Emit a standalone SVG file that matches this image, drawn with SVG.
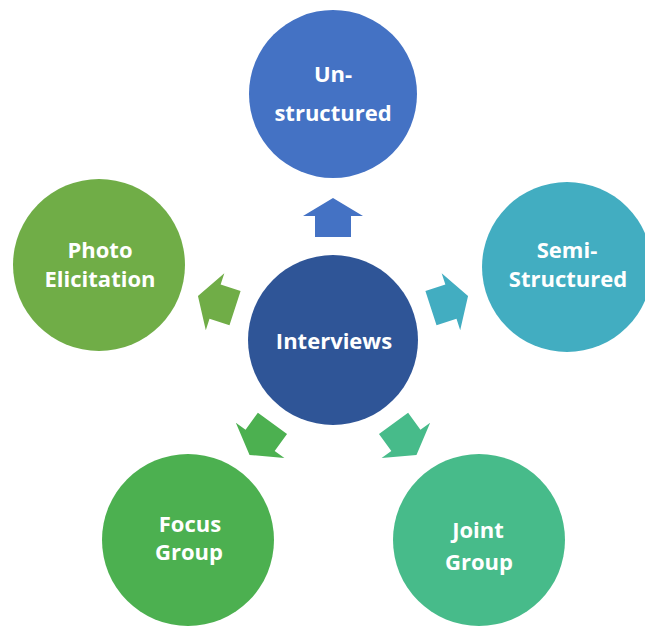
<svg xmlns="http://www.w3.org/2000/svg" width="645" height="628" viewBox="0 0 645 628">
  <style>
    .lbl { font-family: "Open Sans", "Liberation Sans", sans-serif; font-weight: bold; font-size: 22px; fill: #ffffff; text-anchor: middle; }
  </style>
  <defs>
    <!-- upward block arrow, centred on the hub's top axis; rotated for each spoke -->
    <polygon id="spoke" points="333,198 363,216 351,216 351,237 315,237 315,216 303,216"/>
  </defs>
  <rect width="645" height="628" fill="#ffffff"/>

  <g id="connectors">
    <use href="#spoke" fill="#4472C4"/>
    <use href="#spoke" fill="#42ADC1" transform="rotate(72 333 340)"/>
    <use href="#spoke" fill="#47BB8A" transform="rotate(144 333 340)"/>
    <use href="#spoke" fill="#4CB050" transform="rotate(216 333 340)"/>
    <use href="#spoke" fill="#70AD47" transform="rotate(288 333 340)"/>
  </g>

  <g id="interviews">
    <circle cx="333" cy="340" r="85" fill="#2F5597"/>
    <text class="lbl" x="334" y="349">Interviews</text>
  </g>

  <g id="unstructured">
    <circle cx="333" cy="94" r="84" fill="#4472C4"/>
    <text class="lbl" x="333" y="82">Un-</text>
    <text class="lbl" x="333" y="121">structured</text>
  </g>

  <g id="semi-structured">
    <circle cx="567" cy="267" r="85" fill="#42ADC1"/>
    <text class="lbl" x="567" y="258">Semi-</text>
    <text class="lbl" x="568" y="287">Structured</text>
  </g>

  <g id="joint-group">
    <circle cx="479" cy="540" r="86" fill="#47BB8A"/>
    <text class="lbl" x="478" y="538">Joint</text>
    <text class="lbl" x="479" y="570">Group</text>
  </g>

  <g id="focus-group">
    <circle cx="188" cy="540" r="86" fill="#4CB050"/>
    <text class="lbl" x="190" y="532">Focus</text>
    <text class="lbl" x="189" y="560">Group</text>
  </g>

  <g id="photo-elicitation">
    <circle cx="99" cy="265" r="86" fill="#70AD47"/>
    <text class="lbl" x="100" y="258">Photo</text>
    <text class="lbl" x="100" y="287">Elicitation</text>
  </g>
</svg>
